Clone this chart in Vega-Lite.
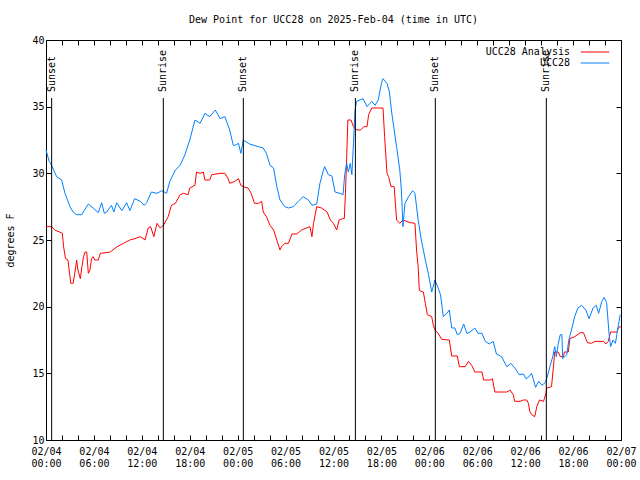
{
"$schema": "https://vega.github.io/schema/vega-lite/v6.json",
"width": 575, "height": 400,
"autosize": {"type": "none"},
"padding": {"left": 46, "top": 40, "right": 19, "bottom": 40},
"background": "white",
"title": {"text": "Dew Point for UCC28 on 2025-Feb-04 (time in UTC)", "font": "DejaVu Sans Mono", "fontSize": 10, "fontWeight": "normal", "color": "black", "anchor": "middle", "offset": 10},
"config": {
  "view": {"stroke": "black", "strokeWidth": 1},
  "axis": {"grid": false, "domain": false, "tickColor": "black", "tickWidth": 1, "tickSize": -5, "labelFont": "DejaVu Sans Mono", "labelFontSize": 10, "labelColor": "black", "titleFont": "DejaVu Sans Mono", "titleFontSize": 10, "titleFontWeight": "normal", "titleColor": "black"},
  "legend": {"orient": "none", "legendX": 543, "legendY": 6, "symbolType": "M-2.6,0H2.6", "symbolSize": 121, "symbolStrokeWidth": 1, "labelAlign": "right", "labelOffset": -31, "labelFont": "DejaVu Sans Mono", "labelFontSize": 10, "labelColor": "black", "rowPadding": 0, "padding": 0}
},
"datasets": {
"dew": [
{"series":"UCC28 Analysis","hour":0,"dewpoint":26.0},
{"series":"UCC28 Analysis","hour":0.7,"dewpoint":26.0},
{"series":"UCC28 Analysis","hour":1.1,"dewpoint":25.75},
{"series":"UCC28 Analysis","hour":1.7,"dewpoint":25.6},
{"series":"UCC28 Analysis","hour":2.05,"dewpoint":25.5},
{"series":"UCC28 Analysis","hour":2.2,"dewpoint":24.5},
{"series":"UCC28 Analysis","hour":2.45,"dewpoint":23.6},
{"series":"UCC28 Analysis","hour":2.75,"dewpoint":23.5},
{"series":"UCC28 Analysis","hour":3.0,"dewpoint":22.25},
{"series":"UCC28 Analysis","hour":3.1,"dewpoint":21.75},
{"series":"UCC28 Analysis","hour":3.4,"dewpoint":21.75},
{"series":"UCC28 Analysis","hour":3.6,"dewpoint":22.5},
{"series":"UCC28 Analysis","hour":3.84,"dewpoint":23.5},
{"series":"UCC28 Analysis","hour":4.0,"dewpoint":22.75},
{"series":"UCC28 Analysis","hour":4.3,"dewpoint":22.1},
{"series":"UCC28 Analysis","hour":4.5,"dewpoint":23.0},
{"series":"UCC28 Analysis","hour":4.7,"dewpoint":23.75},
{"series":"UCC28 Analysis","hour":4.9,"dewpoint":24.1},
{"series":"UCC28 Analysis","hour":5.1,"dewpoint":24.1},
{"series":"UCC28 Analysis","hour":5.3,"dewpoint":22.5},
{"series":"UCC28 Analysis","hour":5.5,"dewpoint":22.75},
{"series":"UCC28 Analysis","hour":5.7,"dewpoint":23.6},
{"series":"UCC28 Analysis","hour":5.9,"dewpoint":23.75},
{"series":"UCC28 Analysis","hour":6.1,"dewpoint":23.5},
{"series":"UCC28 Analysis","hour":6.55,"dewpoint":23.5},
{"series":"UCC28 Analysis","hour":6.8,"dewpoint":24.0},
{"series":"UCC28 Analysis","hour":8.05,"dewpoint":24.1},
{"series":"UCC28 Analysis","hour":8.9,"dewpoint":24.5},
{"series":"UCC28 Analysis","hour":9.7,"dewpoint":24.75},
{"series":"UCC28 Analysis","hour":10.5,"dewpoint":25.0},
{"series":"UCC28 Analysis","hour":11.1,"dewpoint":25.1},
{"series":"UCC28 Analysis","hour":11.8,"dewpoint":25.25},
{"series":"UCC28 Analysis","hour":12.4,"dewpoint":25.0},
{"series":"UCC28 Analysis","hour":12.8,"dewpoint":25.9},
{"series":"UCC28 Analysis","hour":13.1,"dewpoint":26.0},
{"series":"UCC28 Analysis","hour":13.5,"dewpoint":25.25},
{"series":"UCC28 Analysis","hour":13.9,"dewpoint":26.25},
{"series":"UCC28 Analysis","hour":14.3,"dewpoint":25.9},
{"series":"UCC28 Analysis","hour":14.7,"dewpoint":26.1},
{"series":"UCC28 Analysis","hour":15.3,"dewpoint":26.75},
{"series":"UCC28 Analysis","hour":15.7,"dewpoint":27.6},
{"series":"UCC28 Analysis","hour":16.2,"dewpoint":27.75},
{"series":"UCC28 Analysis","hour":16.8,"dewpoint":28.4},
{"series":"UCC28 Analysis","hour":17.2,"dewpoint":28.5},
{"series":"UCC28 Analysis","hour":17.8,"dewpoint":28.4},
{"series":"UCC28 Analysis","hour":18.0,"dewpoint":28.9},
{"series":"UCC28 Analysis","hour":18.65,"dewpoint":29.1},
{"series":"UCC28 Analysis","hour":18.85,"dewpoint":30.1},
{"series":"UCC28 Analysis","hour":19.3,"dewpoint":30.0},
{"series":"UCC28 Analysis","hour":19.7,"dewpoint":30.1},
{"series":"UCC28 Analysis","hour":19.9,"dewpoint":29.5},
{"series":"UCC28 Analysis","hour":20.5,"dewpoint":29.5},
{"series":"UCC28 Analysis","hour":20.75,"dewpoint":29.9},
{"series":"UCC28 Analysis","hour":21.8,"dewpoint":30.0},
{"series":"UCC28 Analysis","hour":22.4,"dewpoint":30.0},
{"series":"UCC28 Analysis","hour":22.8,"dewpoint":29.6},
{"series":"UCC28 Analysis","hour":23.0,"dewpoint":29.25},
{"series":"UCC28 Analysis","hour":23.65,"dewpoint":29.4},
{"series":"UCC28 Analysis","hour":24.1,"dewpoint":29.6},
{"series":"UCC28 Analysis","hour":24.4,"dewpoint":29.1},
{"series":"UCC28 Analysis","hour":24.7,"dewpoint":29.0},
{"series":"UCC28 Analysis","hour":25.3,"dewpoint":28.9},
{"series":"UCC28 Analysis","hour":25.7,"dewpoint":28.5},
{"series":"UCC28 Analysis","hour":26.1,"dewpoint":27.75},
{"series":"UCC28 Analysis","hour":26.6,"dewpoint":27.75},
{"series":"UCC28 Analysis","hour":27.0,"dewpoint":27.9},
{"series":"UCC28 Analysis","hour":27.2,"dewpoint":27.1},
{"series":"UCC28 Analysis","hour":27.6,"dewpoint":26.75},
{"series":"UCC28 Analysis","hour":28.05,"dewpoint":26.1},
{"series":"UCC28 Analysis","hour":28.5,"dewpoint":25.75},
{"series":"UCC28 Analysis","hour":28.9,"dewpoint":25.0},
{"series":"UCC28 Analysis","hour":29.3,"dewpoint":24.25},
{"series":"UCC28 Analysis","hour":29.5,"dewpoint":24.5},
{"series":"UCC28 Analysis","hour":29.9,"dewpoint":24.75},
{"series":"UCC28 Analysis","hour":30.35,"dewpoint":24.75},
{"series":"UCC28 Analysis","hour":30.8,"dewpoint":25.45},
{"series":"UCC28 Analysis","hour":31.4,"dewpoint":25.45},
{"series":"UCC28 Analysis","hour":32.0,"dewpoint":25.75},
{"series":"UCC28 Analysis","hour":32.6,"dewpoint":25.9},
{"series":"UCC28 Analysis","hour":33.05,"dewpoint":26.0},
{"series":"UCC28 Analysis","hour":33.3,"dewpoint":25.25},
{"series":"UCC28 Analysis","hour":33.5,"dewpoint":26.25},
{"series":"UCC28 Analysis","hour":33.9,"dewpoint":27.5},
{"series":"UCC28 Analysis","hour":34.5,"dewpoint":27.4},
{"series":"UCC28 Analysis","hour":35.2,"dewpoint":27.1},
{"series":"UCC28 Analysis","hour":35.6,"dewpoint":26.5},
{"series":"UCC28 Analysis","hour":36.0,"dewpoint":26.25},
{"series":"UCC28 Analysis","hour":36.4,"dewpoint":25.75},
{"series":"UCC28 Analysis","hour":36.7,"dewpoint":26.5},
{"series":"UCC28 Analysis","hour":37.1,"dewpoint":26.6},
{"series":"UCC28 Analysis","hour":37.35,"dewpoint":26.6},
{"series":"UCC28 Analysis","hour":37.5,"dewpoint":28.5},
{"series":"UCC28 Analysis","hour":37.65,"dewpoint":31.25},
{"series":"UCC28 Analysis","hour":37.8,"dewpoint":34.0},
{"series":"UCC28 Analysis","hour":38.2,"dewpoint":34.0},
{"series":"UCC28 Analysis","hour":38.5,"dewpoint":33.5},
{"series":"UCC28 Analysis","hour":38.95,"dewpoint":33.25},
{"series":"UCC28 Analysis","hour":39.4,"dewpoint":33.25},
{"series":"UCC28 Analysis","hour":39.8,"dewpoint":33.5},
{"series":"UCC28 Analysis","hour":40.2,"dewpoint":33.5},
{"series":"UCC28 Analysis","hour":40.4,"dewpoint":34.4},
{"series":"UCC28 Analysis","hour":40.8,"dewpoint":34.9},
{"series":"UCC28 Analysis","hour":42.2,"dewpoint":34.9},
{"series":"UCC28 Analysis","hour":42.4,"dewpoint":32.75},
{"series":"UCC28 Analysis","hour":42.7,"dewpoint":30.0},
{"series":"UCC28 Analysis","hour":42.9,"dewpoint":29.75},
{"series":"UCC28 Analysis","hour":43.2,"dewpoint":29.0},
{"series":"UCC28 Analysis","hour":43.6,"dewpoint":29.0},
{"series":"UCC28 Analysis","hour":43.9,"dewpoint":26.5},
{"series":"UCC28 Analysis","hour":44.3,"dewpoint":26.25},
{"series":"UCC28 Analysis","hour":44.7,"dewpoint":26.5},
{"series":"UCC28 Analysis","hour":45.6,"dewpoint":26.3},
{"series":"UCC28 Analysis","hour":46.2,"dewpoint":26.25},
{"series":"UCC28 Analysis","hour":46.4,"dewpoint":24.25},
{"series":"UCC28 Analysis","hour":46.6,"dewpoint":23.0},
{"series":"UCC28 Analysis","hour":46.75,"dewpoint":21.2},
{"series":"UCC28 Analysis","hour":47.25,"dewpoint":21.1},
{"series":"UCC28 Analysis","hour":47.5,"dewpoint":20.25},
{"series":"UCC28 Analysis","hour":47.75,"dewpoint":19.4},
{"series":"UCC28 Analysis","hour":48.3,"dewpoint":19.25},
{"series":"UCC28 Analysis","hour":48.5,"dewpoint":18.6},
{"series":"UCC28 Analysis","hour":48.7,"dewpoint":18.25},
{"series":"UCC28 Analysis","hour":49.1,"dewpoint":18.0},
{"series":"UCC28 Analysis","hour":49.55,"dewpoint":17.55},
{"series":"UCC28 Analysis","hour":50.5,"dewpoint":17.5},
{"series":"UCC28 Analysis","hour":50.8,"dewpoint":16.3},
{"series":"UCC28 Analysis","hour":51.5,"dewpoint":16.3},
{"series":"UCC28 Analysis","hour":51.76,"dewpoint":15.5},
{"series":"UCC28 Analysis","hour":52.5,"dewpoint":15.5},
{"series":"UCC28 Analysis","hour":52.9,"dewpoint":15.9},
{"series":"UCC28 Analysis","hour":53.3,"dewpoint":15.6},
{"series":"UCC28 Analysis","hour":53.7,"dewpoint":15.1},
{"series":"UCC28 Analysis","hour":54.6,"dewpoint":15.1},
{"series":"UCC28 Analysis","hour":54.8,"dewpoint":14.5},
{"series":"UCC28 Analysis","hour":55.6,"dewpoint":14.5},
{"series":"UCC28 Analysis","hour":55.9,"dewpoint":14.6},
{"series":"UCC28 Analysis","hour":56.2,"dewpoint":13.6},
{"series":"UCC28 Analysis","hour":57.7,"dewpoint":13.6},
{"series":"UCC28 Analysis","hour":58.1,"dewpoint":13.75},
{"series":"UCC28 Analysis","hour":58.5,"dewpoint":13.4},
{"series":"UCC28 Analysis","hour":58.7,"dewpoint":12.9},
{"series":"UCC28 Analysis","hour":59.35,"dewpoint":12.9},
{"series":"UCC28 Analysis","hour":59.8,"dewpoint":13.0},
{"series":"UCC28 Analysis","hour":60.2,"dewpoint":13.0},
{"series":"UCC28 Analysis","hour":60.4,"dewpoint":12.75},
{"series":"UCC28 Analysis","hour":60.6,"dewpoint":12.1},
{"series":"UCC28 Analysis","hour":60.8,"dewpoint":11.9},
{"series":"UCC28 Analysis","hour":61.2,"dewpoint":11.75},
{"series":"UCC28 Analysis","hour":61.45,"dewpoint":12.5},
{"series":"UCC28 Analysis","hour":61.8,"dewpoint":13.0},
{"series":"UCC28 Analysis","hour":62.3,"dewpoint":12.9},
{"series":"UCC28 Analysis","hour":62.6,"dewpoint":13.5},
{"series":"UCC28 Analysis","hour":62.7,"dewpoint":13.9},
{"series":"UCC28 Analysis","hour":63.3,"dewpoint":14.0},
{"series":"UCC28 Analysis","hour":63.5,"dewpoint":15.25},
{"series":"UCC28 Analysis","hour":63.7,"dewpoint":16.6},
{"series":"UCC28 Analysis","hour":64.15,"dewpoint":16.6},
{"series":"UCC28 Analysis","hour":64.4,"dewpoint":16.25},
{"series":"UCC28 Analysis","hour":64.8,"dewpoint":16.25},
{"series":"UCC28 Analysis","hour":64.9,"dewpoint":16.6},
{"series":"UCC28 Analysis","hour":65.4,"dewpoint":16.6},
{"series":"UCC28 Analysis","hour":65.6,"dewpoint":17.6},
{"series":"UCC28 Analysis","hour":66.2,"dewpoint":17.75},
{"series":"UCC28 Analysis","hour":66.9,"dewpoint":18.05},
{"series":"UCC28 Analysis","hour":67.3,"dewpoint":18.05},
{"series":"UCC28 Analysis","hour":67.8,"dewpoint":17.3},
{"series":"UCC28 Analysis","hour":68.3,"dewpoint":17.25},
{"series":"UCC28 Analysis","hour":68.75,"dewpoint":17.4},
{"series":"UCC28 Analysis","hour":69.8,"dewpoint":17.4},
{"series":"UCC28 Analysis","hour":70.1,"dewpoint":17.2},
{"series":"UCC28 Analysis","hour":70.4,"dewpoint":17.4},
{"series":"UCC28 Analysis","hour":70.7,"dewpoint":18.1},
{"series":"UCC28 Analysis","hour":71.5,"dewpoint":18.1},
{"series":"UCC28 Analysis","hour":71.7,"dewpoint":18.45},
{"series":"UCC28 Analysis","hour":72,"dewpoint":18.5},
{"series":"UCC28","hour":0,"dewpoint":31.75},
{"series":"UCC28","hour":0.4,"dewpoint":30.9},
{"series":"UCC28","hour":0.7,"dewpoint":30.6},
{"series":"UCC28","hour":1.33,"dewpoint":29.75},
{"series":"UCC28","hour":1.96,"dewpoint":29.5},
{"series":"UCC28","hour":2.38,"dewpoint":28.5},
{"series":"UCC28","hour":3.0,"dewpoint":27.5},
{"series":"UCC28","hour":3.4,"dewpoint":27.1},
{"series":"UCC28","hour":3.84,"dewpoint":26.9},
{"series":"UCC28","hour":4.47,"dewpoint":26.9},
{"series":"UCC28","hour":5.3,"dewpoint":27.7},
{"series":"UCC28","hour":5.9,"dewpoint":27.4},
{"series":"UCC28","hour":6.55,"dewpoint":27.05},
{"series":"UCC28","hour":6.97,"dewpoint":27.8},
{"series":"UCC28","hour":7.3,"dewpoint":27.0},
{"series":"UCC28","hour":7.6,"dewpoint":27.1},
{"series":"UCC28","hour":8.2,"dewpoint":27.6},
{"series":"UCC28","hour":8.5,"dewpoint":27.1},
{"series":"UCC28","hour":8.85,"dewpoint":27.8},
{"series":"UCC28","hour":9.5,"dewpoint":27.2},
{"series":"UCC28","hour":10.1,"dewpoint":27.8},
{"series":"UCC28","hour":10.5,"dewpoint":27.2},
{"series":"UCC28","hour":11.1,"dewpoint":28.1},
{"series":"UCC28","hour":11.8,"dewpoint":27.9},
{"series":"UCC28","hour":12.3,"dewpoint":27.6},
{"series":"UCC28","hour":12.6,"dewpoint":27.8},
{"series":"UCC28","hour":13.2,"dewpoint":28.6},
{"series":"UCC28","hour":13.9,"dewpoint":28.5},
{"series":"UCC28","hour":14.5,"dewpoint":28.7},
{"series":"UCC28","hour":15.1,"dewpoint":28.5},
{"series":"UCC28","hour":15.5,"dewpoint":29.4},
{"series":"UCC28","hour":16.2,"dewpoint":30.25},
{"series":"UCC28","hour":16.8,"dewpoint":30.6},
{"series":"UCC28","hour":17.4,"dewpoint":31.4},
{"series":"UCC28","hour":18.0,"dewpoint":32.5},
{"series":"UCC28","hour":18.65,"dewpoint":34.0},
{"series":"UCC28","hour":19.3,"dewpoint":33.75},
{"series":"UCC28","hour":19.9,"dewpoint":34.5},
{"series":"UCC28","hour":20.5,"dewpoint":34.25},
{"series":"UCC28","hour":21.2,"dewpoint":34.75},
{"series":"UCC28","hour":21.8,"dewpoint":34.1},
{"series":"UCC28","hour":22.4,"dewpoint":34.25},
{"series":"UCC28","hour":23.0,"dewpoint":33.25},
{"series":"UCC28","hour":23.45,"dewpoint":32.1},
{"series":"UCC28","hour":23.65,"dewpoint":32.1},
{"series":"UCC28","hour":24.1,"dewpoint":32.25},
{"series":"UCC28","hour":24.4,"dewpoint":31.5},
{"series":"UCC28","hour":24.7,"dewpoint":32.5},
{"series":"UCC28","hour":25.5,"dewpoint":32.2},
{"series":"UCC28","hour":26.6,"dewpoint":32.0},
{"series":"UCC28","hour":27.2,"dewpoint":31.9},
{"series":"UCC28","hour":27.6,"dewpoint":31.5},
{"series":"UCC28","hour":28.05,"dewpoint":30.6},
{"series":"UCC28","hour":28.5,"dewpoint":30.4},
{"series":"UCC28","hour":28.9,"dewpoint":29.0},
{"series":"UCC28","hour":29.3,"dewpoint":28.0},
{"series":"UCC28","hour":29.9,"dewpoint":27.5},
{"series":"UCC28","hour":30.35,"dewpoint":27.4},
{"series":"UCC28","hour":30.97,"dewpoint":27.5},
{"series":"UCC28","hour":31.6,"dewpoint":27.9},
{"series":"UCC28","hour":32.2,"dewpoint":28.25},
{"series":"UCC28","hour":32.85,"dewpoint":28.0},
{"series":"UCC28","hour":33.3,"dewpoint":27.6},
{"series":"UCC28","hour":33.9,"dewpoint":27.7},
{"series":"UCC28","hour":34.3,"dewpoint":29.25},
{"series":"UCC28","hour":34.75,"dewpoint":30.25},
{"series":"UCC28","hour":34.9,"dewpoint":30.5},
{"series":"UCC28","hour":35.35,"dewpoint":29.9},
{"series":"UCC28","hour":35.8,"dewpoint":29.8},
{"series":"UCC28","hour":36.2,"dewpoint":28.6},
{"series":"UCC28","hour":36.8,"dewpoint":28.5},
{"series":"UCC28","hour":37.2,"dewpoint":28.4},
{"series":"UCC28","hour":37.4,"dewpoint":29.9},
{"series":"UCC28","hour":37.65,"dewpoint":30.75},
{"series":"UCC28","hour":37.85,"dewpoint":30.1},
{"series":"UCC28","hour":38.1,"dewpoint":30.75},
{"series":"UCC28","hour":38.3,"dewpoint":29.9},
{"series":"UCC28","hour":38.5,"dewpoint":32.25},
{"series":"UCC28","hour":38.7,"dewpoint":34.75},
{"series":"UCC28","hour":38.9,"dewpoint":35.4},
{"series":"UCC28","hour":39.7,"dewpoint":35.6},
{"series":"UCC28","hour":40.2,"dewpoint":35.0},
{"series":"UCC28","hour":40.8,"dewpoint":35.4},
{"series":"UCC28","hour":41.2,"dewpoint":35.1},
{"series":"UCC28","hour":41.6,"dewpoint":35.5},
{"series":"UCC28","hour":42.0,"dewpoint":36.75},
{"series":"UCC28","hour":42.2,"dewpoint":37.1},
{"series":"UCC28","hour":42.7,"dewpoint":36.75},
{"series":"UCC28","hour":43.0,"dewpoint":36.1},
{"series":"UCC28","hour":43.3,"dewpoint":34.5},
{"series":"UCC28","hour":43.6,"dewpoint":33.25},
{"series":"UCC28","hour":43.9,"dewpoint":32.0},
{"series":"UCC28","hour":44.3,"dewpoint":30.25},
{"series":"UCC28","hour":44.5,"dewpoint":28.75},
{"series":"UCC28","hour":44.7,"dewpoint":26.0},
{"series":"UCC28","hour":44.95,"dewpoint":27.75},
{"series":"UCC28","hour":45.4,"dewpoint":28.25},
{"series":"UCC28","hour":45.9,"dewpoint":28.7},
{"series":"UCC28","hour":46.2,"dewpoint":28.5},
{"series":"UCC28","hour":46.6,"dewpoint":26.5},
{"series":"UCC28","hour":47.0,"dewpoint":25.0},
{"series":"UCC28","hour":47.5,"dewpoint":23.5},
{"series":"UCC28","hour":47.9,"dewpoint":22.4},
{"series":"UCC28","hour":48.3,"dewpoint":21.1},
{"series":"UCC28","hour":48.7,"dewpoint":22.0},
{"series":"UCC28","hour":49.1,"dewpoint":21.4},
{"series":"UCC28","hour":49.4,"dewpoint":20.9},
{"series":"UCC28","hour":49.75,"dewpoint":19.25},
{"series":"UCC28","hour":50.2,"dewpoint":19.5},
{"series":"UCC28","hour":50.5,"dewpoint":19.75},
{"series":"UCC28","hour":50.8,"dewpoint":18.4},
{"series":"UCC28","hour":51.2,"dewpoint":18.4},
{"series":"UCC28","hour":51.5,"dewpoint":17.9},
{"series":"UCC28","hour":51.85,"dewpoint":18.0},
{"series":"UCC28","hour":52.3,"dewpoint":18.7},
{"series":"UCC28","hour":52.7,"dewpoint":18.0},
{"series":"UCC28","hour":53.1,"dewpoint":18.1},
{"series":"UCC28","hour":53.7,"dewpoint":18.4},
{"series":"UCC28","hour":54.1,"dewpoint":18.0},
{"series":"UCC28","hour":54.6,"dewpoint":18.0},
{"series":"UCC28","hour":55.0,"dewpoint":17.4},
{"series":"UCC28","hour":55.5,"dewpoint":17.2},
{"series":"UCC28","hour":56.0,"dewpoint":17.4},
{"series":"UCC28","hour":56.4,"dewpoint":16.45},
{"series":"UCC28","hour":57.05,"dewpoint":16.25},
{"series":"UCC28","hour":57.7,"dewpoint":15.5},
{"series":"UCC28","hour":58.2,"dewpoint":15.75},
{"series":"UCC28","hour":58.7,"dewpoint":15.4},
{"series":"UCC28","hour":59.25,"dewpoint":14.9},
{"series":"UCC28","hour":59.8,"dewpoint":14.95},
{"series":"UCC28","hour":60.1,"dewpoint":14.6},
{"series":"UCC28","hour":60.4,"dewpoint":14.7},
{"series":"UCC28","hour":60.8,"dewpoint":15.0},
{"series":"UCC28","hour":61.0,"dewpoint":14.6},
{"series":"UCC28","hour":61.3,"dewpoint":13.95},
{"series":"UCC28","hour":61.7,"dewpoint":14.4},
{"series":"UCC28","hour":62.1,"dewpoint":14.1},
{"series":"UCC28","hour":62.5,"dewpoint":14.3},
{"series":"UCC28","hour":62.7,"dewpoint":14.6},
{"series":"UCC28","hour":63.1,"dewpoint":15.5},
{"series":"UCC28","hour":63.45,"dewpoint":16.25},
{"series":"UCC28","hour":63.7,"dewpoint":17.0},
{"series":"UCC28","hour":63.9,"dewpoint":16.25},
{"series":"UCC28","hour":64.15,"dewpoint":17.25},
{"series":"UCC28","hour":64.4,"dewpoint":17.9},
{"series":"UCC28","hour":64.6,"dewpoint":17.9},
{"series":"UCC28","hour":64.7,"dewpoint":16.1},
{"series":"UCC28","hour":65.2,"dewpoint":16.4},
{"series":"UCC28","hour":65.5,"dewpoint":17.6},
{"series":"UCC28","hour":65.8,"dewpoint":18.25},
{"series":"UCC28","hour":66.2,"dewpoint":19.25},
{"series":"UCC28","hour":66.6,"dewpoint":19.9},
{"series":"UCC28","hour":67.05,"dewpoint":20.1},
{"series":"UCC28","hour":67.6,"dewpoint":19.75},
{"series":"UCC28","hour":68.0,"dewpoint":19.1},
{"series":"UCC28","hour":68.5,"dewpoint":19.9},
{"series":"UCC28","hour":68.9,"dewpoint":20.1},
{"series":"UCC28","hour":69.2,"dewpoint":19.5},
{"series":"UCC28","hour":69.6,"dewpoint":20.4},
{"series":"UCC28","hour":69.9,"dewpoint":20.7},
{"series":"UCC28","hour":70.2,"dewpoint":20.3},
{"series":"UCC28","hour":70.5,"dewpoint":18.0},
{"series":"UCC28","hour":70.7,"dewpoint":17.0},
{"series":"UCC28","hour":71.0,"dewpoint":17.5},
{"series":"UCC28","hour":71.3,"dewpoint":17.25},
{"series":"UCC28","hour":71.5,"dewpoint":18.0},
{"series":"UCC28","hour":71.9,"dewpoint":19.4}
],
"sun": [
{"hour":0.71,"event":"Sunset"},
{"hour":14.69,"event":"Sunrise"},
{"hour":24.71,"event":"Sunset"},
{"hour":38.74,"event":"Sunrise"},
{"hour":48.75,"event":"Sunset"},
{"hour":62.65,"event":"Sunrise"}
]
},
"layer": [
{
"data": {"name": "dew"},
"mark": {"type": "line", "strokeWidth": 1, "interpolate": "linear"},
"encoding": {
"x": {"field": "hour", "type": "quantitative", "scale": {"domain": [0, 72], "nice": false, "zero": false},
  "axis": {"orient": "bottom", "title": null, "values": [0,2,4,6,8,10,12,14,16,18,20,22,24,26,28,30,32,34,36,38,40,42,44,46,48,50,52,54,56,58,60,62,64,66,68,70,72],
   "labelExpr": "datum.value % 6 == 0 ? ['02/0' + (4 + floor(datum.value / 24)), (datum.value % 24 < 10 ? '0' : '') + (datum.value % 24) + ':00'] : ''",
   "labelOverlap": false, "labelBound": false, "labelFlush": false, "labelBaseline": "top", "labelLineHeight": 12, "labelPadding": 11}},
"y": {"field": "dewpoint", "type": "quantitative", "scale": {"domain": [10, 40], "nice": false, "zero": false},
  "axis": {"orient": "left", "title": "degrees F", "values": [10,15,20,25,30,35,40], "labelPadding": 7, "titlePadding": 16}},
"color": {"field": "series", "type": "nominal", "scale": {"domain": ["UCC28 Analysis", "UCC28"], "range": ["#ff0000", "#0080ff"]}, "legend": {"title": null}}
}
},
{
"data": {"name": "sun"},
"mark": {"type": "rule", "color": "black", "strokeWidth": 1},
"encoding": {
"x": {"field": "hour", "type": "quantitative", "axis": {"orient": "top", "title": null, "labels": false, "values": [0,2,4,6,8,10,12,14,16,18,20,22,24,26,28,30,32,34,36,38,40,42,44,46,48,50,52,54,56,58,60,62,64,66,68,70,72]}},
"y": {"datum": 35.65, "type": "quantitative", "axis": {"orient": "right", "title": null, "labels": false, "values": [10,15,20,25,30,35,40]}},
"y2": {"datum": 10}
}
},
{
"data": {"name": "sun"},
"mark": {"type": "text", "angle": 270, "align": "left", "baseline": "middle", "font": "DejaVu Sans Mono", "fontSize": 10, "color": "black"},
"encoding": {
"x": {"field": "hour", "type": "quantitative", "axis": null},
"y": {"datum": 36.1, "type": "quantitative", "axis": null},
"text": {"field": "event"}
}
}
],
"resolve": {"axis": {"x": "independent", "y": "independent"}}
}
